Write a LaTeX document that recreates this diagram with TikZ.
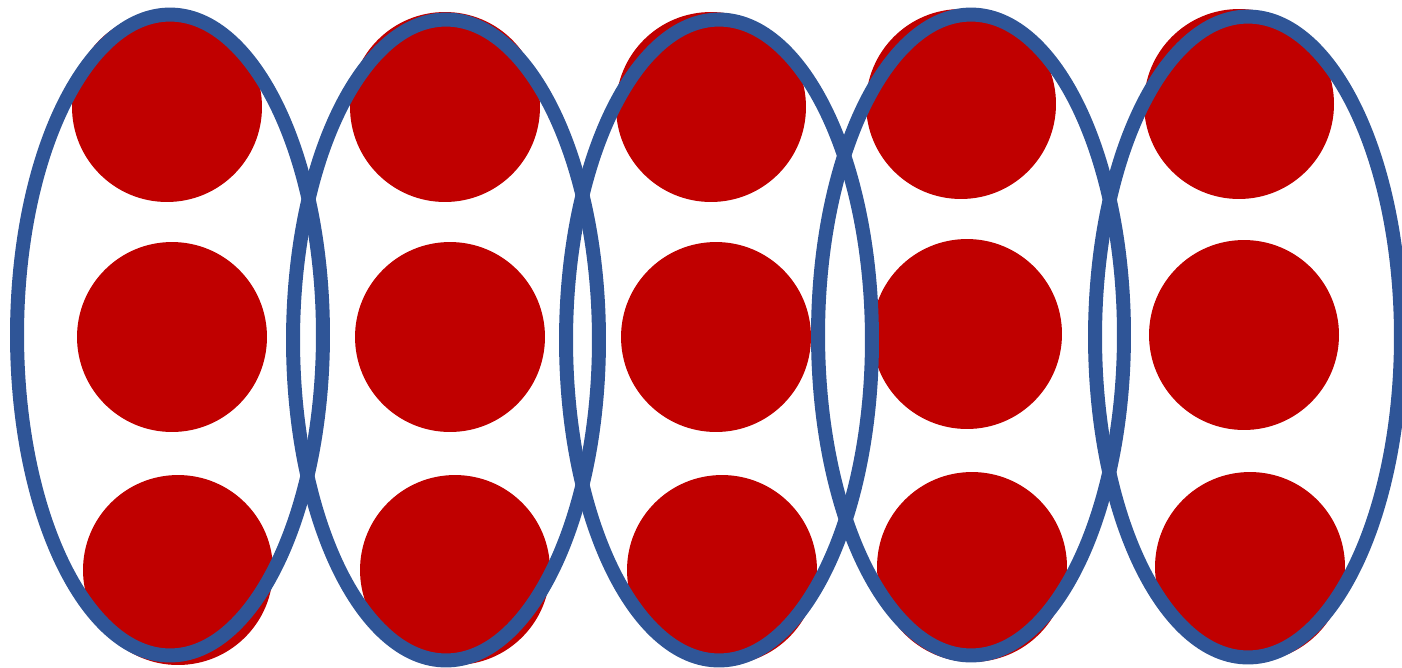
\documentclass[tikz,border=0pt]{standalone}
\usetikzlibrary{shapes.geometric}
\definecolor{ringblue}{RGB}{47,85,151}
\definecolor{dotred}{RGB}{192,0,0}
\begin{document}
\begin{tikzpicture}
[x=0.02cm, y=-0.02cm]
\tikzstyle{dot}=[circle, fill=dotred, inner sep=0mm, minimum size=3.8cm]
\tikzstyle{ring}=[ellipse, draw=ringblue, line width=0.28cm, inner sep=0mm, minimum width=6.12cm, minimum height=12.82cm]
\useasboundingbox (0,0) rectangle (1402,667);

% dots, column by column
\node[dot]	(A1)	at (167,107)	{};
\node[dot]	(A2)	at (172,337)	{};
\node[dot]	(A3)	at (178,570)	{};
\node[dot]	(B1)	at (445,107)	{};
\node[dot]	(B2)	at (450,337)	{};
\node[dot]	(B3)	at (455,570)	{};
\node[dot]	(C1)	at (711,107)	{};
\node[dot]	(C2)	at (716,337)	{};
\node[dot]	(C3)	at (722,570)	{};
\node[dot]	(D1)	at (961,104)	{};
\node[dot]	(D2)	at (967,334)	{};
\node[dot]	(D3)	at (972,567)	{};
\node[dot]	(E1)	at (1239,104)	{};
\node[dot]	(E2)	at (1244,335)	{};
\node[dot]	(E3)	at (1250,567)	{};

% rings on top
\node[ring]	(RA)	at (170,335)	{};
\node[ring]	(RB)	at (446,340)	{};
\node[ring]	(RC)	at (719,340)	{};
\node[ring]	(RD)	at (971,335)	{};
\node[ring]	(RE)	at (1248,337)	{};
\end{tikzpicture}
\end{document}
